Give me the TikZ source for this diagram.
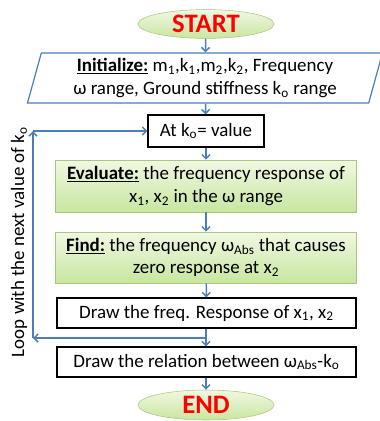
\documentclass[tikz,border=0pt]{standalone}
\usepackage{fontspec}
\setmainfont{Carlito}
\usetikzlibrary{shapes.geometric,arrows.meta}
\definecolor{flowblue}{HTML}{4A7EBB}
\definecolor{boxgreen}{HTML}{A9C97A}
\definecolor{greentop}{HTML}{F0F8E2}
\definecolor{greenbot}{HTML}{C8E6A0}
\newcommand{\sub}[1]{\textsubscript{#1}}
\newcommand{\head}[1]{\underline{\textbf{#1}}}

\begin{document}
\begin{tikzpicture}[
    x=0.75pt, y=-0.75pt,
    every node/.style={font=\fontsize{14.2}{17}\selectfont, align=center, inner sep=1pt},
    terminal/.style={ellipse, draw=boxgreen, top color=greentop, bottom color=greenbot,
      minimum width=102pt, minimum height=21pt, text=red,
      font=\fontsize{20}{22}\selectfont\bfseries},
    process/.style={rectangle, draw=boxgreen, top color=greentop, bottom color=greenbot,
      minimum width=225.75pt},
    plain/.style={rectangle, draw=black, line width=0.9pt},
    flow/.style={draw=flowblue, line width=1.1pt, -{Straight Barb[length=3pt,width=6pt]}}
  ]
  \useasboundingbox (0,0) rectangle (379,421);
  \node (start) [terminal] at (206,24) {START};
  \node (init) [trapezium, trapezium left angle=75, trapezium right angle=105,
    trapezium stretches=true, draw=flowblue, line width=0.9pt, fill=white,
    minimum width=267pt, minimum height=37.5pt] at (205,78)
    {\head{Initialize:} m\sub{1},k\sub{1},m\sub{2},k\sub{2}, Frequency\\
     ω range, Ground stiffness k\sub{o} range};
  \node (k_o) [plain, minimum width=87pt, minimum height=24pt] at (206,131) {At k\sub{o}= value};
  \node (eval) [process, minimum height=39pt] at (206,186)
    {\head{Evaluate:} the frequency response of\\ x\sub{1}, x\sub{2} in the ω range};
  \node (find) [process, minimum height=38.25pt] at (206,257.5)
    {\head{Find:} the frequency ω\sub{Abs} that causes\\ zero response at x\sub{2}};
  \node (draw_x) [plain, minimum width=224.25pt, minimum height=22.5pt] at (206.5,313)
    {Draw the freq. Response of x\sub{1}, x\sub{2}};
  \node (draw_w) [plain, minimum width=224.25pt, minimum height=22.5pt] at (206.5,362)
    {Draw the relation between ω\sub{Abs}-k\sub{o}};
  \node (stop) [terminal, minimum height=22.5pt] at (206,405) {END};
  \node (loop) [rotate=90] at (19,242) {Loop with the next value of k\sub{o}};
  \coordinate (split) at (206,338);
  \coordinate (c_low) at (33,338);
  \coordinate (c_high) at (33,131);
  \draw[flow] (start) -- (init);
  \draw[flow] (init) -- (k_o);
  \draw[flow] (k_o) -- (eval);
  \draw[flow] (eval) -- (find);
  \draw[flow] (find) -- (draw_x);
  \draw[flow] (draw_x.south -| split) -- (draw_w.north -| split);
  \draw[flow] (draw_w.south -| stop) -- (stop);
  \draw[flow] (split) -- (c_low);
  \draw[flow] (c_low) -- (c_high);
  \draw[flow] (c_high) -- (k_o);
\end{tikzpicture}
\end{document}
